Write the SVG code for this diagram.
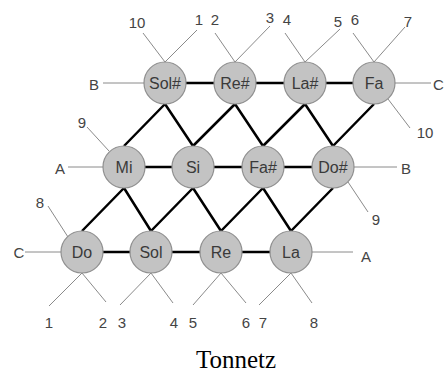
<svg xmlns="http://www.w3.org/2000/svg" width="445" height="374" viewBox="0 0 445 374">
<style>
.th{stroke:#000;stroke-width:2.5;fill:none}
.tn{stroke:#8a8a8a;stroke-width:1;fill:none}
.nd circle{fill:#c3c3c3;stroke:#8f8f8f;stroke-width:1.2}
.nd text{font-family:"Liberation Sans",Arial,sans-serif;font-size:16px;fill:#3a3a3a;text-anchor:middle}
.lb{font-family:"Liberation Sans",Arial,sans-serif;font-size:15px;fill:#444;text-anchor:middle}
.ti{font-family:"Liberation Serif","Times New Roman",serif;font-size:25px;fill:#000;text-anchor:middle}
</style>
<rect width="445" height="374" fill="#fff"/>
<g id="connectors">
<path class="th" d="M165,83H374M124,167H333M82,252H291"/>
<path class="th" d="M165,104L124,146M165,104L193,146M235,104L193,146M235,104L263,146M305,104L263,146M305,104L333,146M374,104L333,146"/>
<path class="th" d="M124,188L82,231M124,188L151,231M193,188L151,231M193,188L221,231M263,188L221,231M263,188L291,231M333,188L291,231"/>
<path class="tn" d="M165,62L143,33M165,62L197,30M235,62L215,33M235,62L270,26M305,62L285,33M305,62L340,29M374,62L353,33M374,62L405,27"/>
<path class="tn" d="M388,99L410,128M109,151L87,127M348,182L368,212M68,237L48,206"/>
<path class="tn" d="M82,273L49,306M82,273L106,302M151,273L120,305M151,273L173,303M221,273L193,305M221,273L246,303M291,273L259,305M291,273L312,303"/>
<path class="tn" d="M103,83H144M395,83H431M68,167H103M354,167H397M25,252H61M312,252H353"/>
</g>
<g id="n-solsharp" class="nd"><circle cx="165" cy="83" r="21"/><text x="165" y="89">Sol#</text></g>
<g id="n-resharp" class="nd"><circle cx="235" cy="83" r="21"/><text x="235" y="89">Re#</text></g>
<g id="n-lasharp" class="nd"><circle cx="305" cy="83" r="21"/><text x="305" y="89">La#</text></g>
<g id="n-fa" class="nd"><circle cx="374" cy="83" r="21"/><text x="374" y="89">Fa</text></g>
<g id="n-mi" class="nd"><circle cx="124" cy="167" r="21"/><text x="124" y="173">Mi</text></g>
<g id="n-si" class="nd"><circle cx="193" cy="167" r="21"/><text x="193" y="173">Si</text></g>
<g id="n-fasharp" class="nd"><circle cx="263" cy="167" r="21"/><text x="263" y="173">Fa#</text></g>
<g id="n-dosharp" class="nd"><circle cx="333" cy="167" r="21"/><text x="333" y="173">Do#</text></g>
<g id="n-do" class="nd"><circle cx="82" cy="252" r="21"/><text x="82" y="258">Do</text></g>
<g id="n-sol" class="nd"><circle cx="151" cy="252" r="21"/><text x="151" y="258">Sol</text></g>
<g id="n-re" class="nd"><circle cx="221" cy="252" r="21"/><text x="221" y="258">Re</text></g>
<g id="n-la" class="nd"><circle cx="291" cy="252" r="21"/><text x="291" y="258">La</text></g>
<g id="labels">
<text class="lb" x="137" y="28">10</text>
<text class="lb" x="199" y="25">1</text>
<text class="lb" x="215" y="25">2</text>
<text class="lb" x="270" y="23">3</text>
<text class="lb" x="287" y="25">4</text>
<text class="lb" x="338" y="27">5</text>
<text class="lb" x="355" y="25">6</text>
<text class="lb" x="408" y="27">7</text>
<text class="lb" x="94" y="90">B</text>
<text class="lb" x="433" y="90" style="text-anchor:start">C</text>
<text class="lb" x="82" y="128">9</text>
<text class="lb" x="425" y="138">10</text>
<text class="lb" x="60" y="174">A</text>
<text class="lb" x="406" y="174">B</text>
<text class="lb" x="40" y="208">8</text>
<text class="lb" x="376" y="225">9</text>
<text class="lb" x="19" y="258">C</text>
<text class="lb" x="366" y="262">A</text>
<text class="lb" x="49" y="328">1</text>
<text class="lb" x="103" y="328">2</text>
<text class="lb" x="122" y="328">3</text>
<text class="lb" x="174" y="328">4</text>
<text class="lb" x="193" y="328">5</text>
<text class="lb" x="246" y="328">6</text>
<text class="lb" x="263" y="328">7</text>
<text class="lb" x="314" y="328">8</text>
<text class="ti" x="236" y="368">Tonnetz</text>
</g>
</svg>
